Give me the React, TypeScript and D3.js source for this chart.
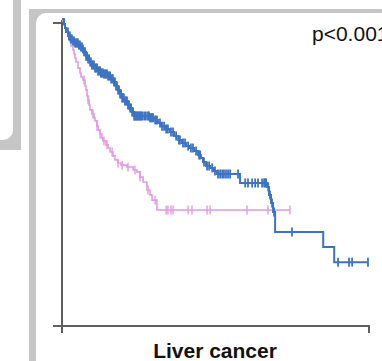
import React from "react";
import * as d3 from "d3";

// Kaplan-Meier steps (time in months, survival fraction)
const blueTimes = [0, 0.78, 1.17, 1.56, 2.35, 3.13, 3.91, 5.08, 6.26, 7.04, 7.82, 8.6, 9.38, 10.2, 10.9, 11.7, 12.9, 14.1, 15.2, 16.4, 18.0, 19.2, 20.3, 21.1, 21.9, 22.7, 23.5, 24.6, 25.8, 26.6, 27.4, 28.2, 34.4, 36.4, 37.5, 38.7, 40.3, 42.2, 43.8, 45.4, 46.9, 48.5, 50.0, 51.6, 53.2, 54.3, 55.1, 56.3, 57.9, 59.4, 60.6, 69.6, 80.2, 80.9, 81.7, 82.5, 83.3, 102.1, 106.4];
const blueSurv = [1, 0.984, 0.971, 0.958, 0.945, 0.935, 0.928, 0.922, 0.915, 0.909, 0.902, 0.893, 0.879, 0.87, 0.86, 0.85, 0.84, 0.831, 0.824, 0.821, 0.814, 0.805, 0.795, 0.782, 0.769, 0.756, 0.743, 0.733, 0.72, 0.71, 0.697, 0.684, 0.678, 0.671, 0.661, 0.651, 0.642, 0.632, 0.619, 0.606, 0.596, 0.586, 0.58, 0.57, 0.557, 0.547, 0.534, 0.521, 0.515, 0.505, 0.495, 0.466, 0.453, 0.427, 0.401, 0.371, 0.306, 0.257, 0.208];
const blueEnd = 119.6;
const blueCensor = [2.3, 2.7, 3.1, 3.5, 3.9, 4.3, 4.7, 5.1, 5.5, 5.9, 6.2, 6.6, 7.0, 7.4, 7.8, 8.2, 8.6, 9.0, 9.4, 9.8, 10.2, 10.6, 11.0, 11.3, 11.7, 12.1, 12.5, 12.9, 13.3, 13.7, 14.1, 14.5, 14.9, 15.2, 15.6, 16.0, 16.4, 16.8, 17.2, 17.6, 18.0, 18.4, 18.8, 19.2, 19.6, 19.9, 20.3, 20.7, 21.1, 21.5, 21.9, 22.3, 22.7, 23.1, 23.5, 23.9, 24.2, 24.6, 25.0, 25.4, 25.8, 26.2, 26.6, 27.0, 27.4, 27.8, 28.2, 28.5, 28.9, 29.3, 29.7, 30.1, 30.5, 30.9, 31.3, 32.1, 32.8, 33.6, 34.0, 34.4, 34.8, 35.2, 35.6, 36.4, 37.1, 38.3, 39.1, 39.9, 40.7, 41.4, 42.6, 43.4, 44.6, 45.7, 46.1, 47.3, 48.1, 49.3, 50.4, 51.2, 52.4, 53.6, 54.0, 55.5, 56.7, 57.5, 58.7, 59.8, 61.0, 61.8, 62.6, 63.3, 64.1, 64.9, 65.7, 68.8, 71.6, 72.7, 74.3, 75.5, 76.6, 78.2, 79.0, 79.4, 79.8, 80.6, 81.3, 82.1, 82.9, 89.9, 107.9, 112.2, 113.4, 119.6];

const pinkTimes = [0, 0.39, 0.78, 1.17, 1.56, 2.35, 2.74, 3.13, 3.52, 4.3, 4.69, 5.08, 5.47, 6.26, 7.04, 7.43, 8.21, 8.99, 9.38, 9.78, 10.2, 10.6, 10.9, 11.7, 12.5, 12.9, 13.7, 14.1, 14.9, 15.6, 16.0, 17.2, 18.0, 18.8, 19.9, 20.7, 21.9, 23.1, 25.4, 27.8, 29.3, 30.5, 31.7, 33.2, 34.4, 35.2, 37.1];
const pinkSurv = [1, 0.993, 0.98, 0.971, 0.961, 0.951, 0.938, 0.925, 0.912, 0.899, 0.886, 0.873, 0.86, 0.84, 0.824, 0.811, 0.801, 0.782, 0.769, 0.749, 0.736, 0.72, 0.704, 0.691, 0.678, 0.668, 0.651, 0.638, 0.625, 0.612, 0.603, 0.59, 0.58, 0.567, 0.554, 0.541, 0.531, 0.524, 0.518, 0.508, 0.502, 0.485, 0.469, 0.443, 0.427, 0.41, 0.378];
const pinkEnd = 89.1;
const pinkCensor = [8.6, 10.2, 12.1, 13.7, 14.9, 16.4, 17.6, 19.6, 21.9, 23.5, 25.8, 28.5, 30.5, 33.6, 36.4, 40.7, 41.4, 42.6, 43.4, 49.3, 50.8, 56.7, 57.9, 72.3, 80.5, 89.1];

const pLabel = "p<0.001";
const title = "Liver cancer";

const W = 382;
const H = 361;

function survAt(times: number[], surv: number[], t: number) {
  let v = surv[0];
  for (let i = 0; i < times.length; i++) {
    if (times[i] <= t) v = surv[i];
  }
  return v;
}

function Curve({ times, surv, end, censor, color, width, tickW, x, y }: any) {
  const pts: [number, number][] = times.map((t: number, i: number) => [t, surv[i]]);
  pts.push([end, surv[surv.length - 1]]);
  const line = d3
    .line<[number, number]>()
    .x((d) => x(d[0]))
    .y((d) => y(d[1]))
    .curve(d3.curveStepAfter);
  return (
    <g>
      <path d={line(pts) || ""} fill="none" stroke={color} strokeWidth={width} />
      {censor.map((c: number, i: number) => {
        const cx = x(c);
        const cy = y(survAt(times, surv, c));
        return <line key={i} x1={cx} x2={cx} y1={cy - 4.5} y2={cy + 4.5} stroke={color} strokeWidth={tickW} />;
      })}
    </g>
  );
}

export default function App() {
  const x = d3.scaleLinear().domain([0, 120]).range([62, 369]);
  const y = d3.scaleLinear().domain([0, 1]).range([326, 19]);
  const axisColor = "#5f5f5f";
  const gray = "#c6c6c6";
  return (
    <svg width={W} height={H} style={{ position: "absolute", left: 0, top: 0, background: "#fff" }}>
      {/* left panel border */}
      <rect x={-20} y={-20} width={41} height={170} fill={gray} />
      <rect x={-30} y={-30} width={43} height={170} rx={10} fill="#fff" />
      {/* right panel border */}
      <rect x={29} y={9} width={400} height={400} fill={gray} />
      <rect x={36} y={13} width={400} height={400} rx={10} fill="#fff" />

      {/* axes */}
      <line x1={62} x2={62} y1={20} y2={333} stroke={axisColor} strokeWidth={2} />
      <line x1={53} x2={62} y1={23} y2={23} stroke={axisColor} strokeWidth={2} />
      <line x1={53} x2={370} y1={326} y2={326} stroke={axisColor} strokeWidth={2} />
      <line x1={369} x2={369} y1={326} y2={333} stroke={axisColor} strokeWidth={2} />

      <Curve times={pinkTimes} surv={pinkSurv} end={pinkEnd} censor={pinkCensor} color="#e39be0" width={1.6} tickW={1.4} x={x} y={y} />
      <Curve times={blueTimes} surv={blueSurv} end={blueEnd} censor={blueCensor} color="#3d74c2" width={2} tickW={1.8} x={x} y={y} />

      <text x={312} y={41} fontFamily="'Liberation Sans', Arial, sans-serif" fontSize={21} fill="#111">
        {pLabel}
      </text>
      <text x={215} y={358} textAnchor="middle" fontFamily="'Liberation Sans', Arial, sans-serif" fontSize={21} fontWeight="bold" fill="#111">
        {title}
      </text>
    </svg>
  );
}
